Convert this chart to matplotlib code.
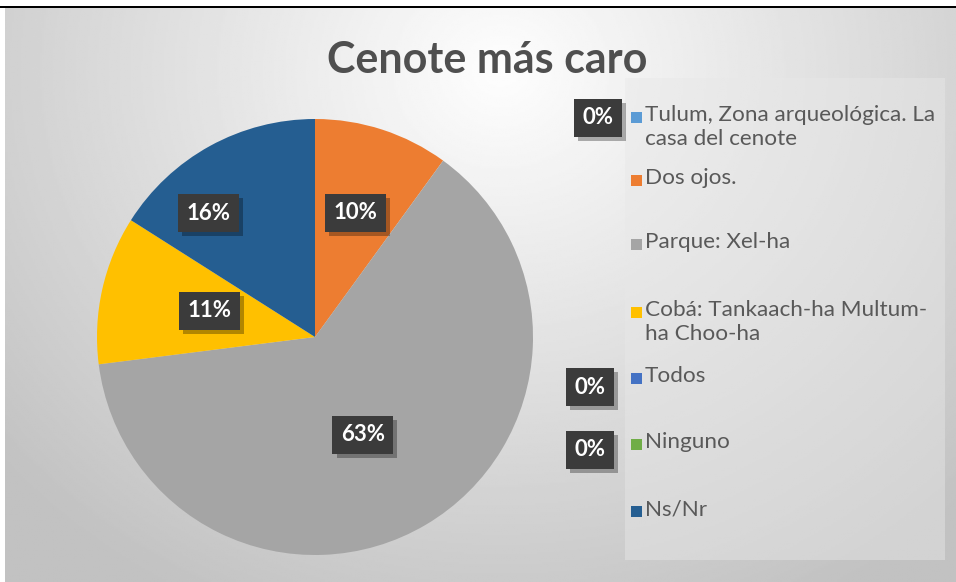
import numpy as np
import matplotlib
matplotlib.use("Agg")
import matplotlib.pyplot as plt
import matplotlib.patheffects as pe
from matplotlib.patches import Rectangle

plt.rcParams['font.family'] = ['Lato', 'DejaVu Sans']

# data
categories = ['Tulum, Zona arqueológica. La\ncasa del cenote', 'Dos ojos.', 'Parque: Xel-ha',
              'Cobá: Tankaach-ha Multum-\nha Choo-ha', 'Todos', 'Ninguno', 'Ns/Nr']
shares = [0, 10, 63, 11, 0, 0, 16]
colors = ['#5B9BD5', '#ED7D31', '#A5A5A5', '#FFC000', '#4472C4', '#70AD47', '#255E91']
title = 'Cenote más caro'

W, H = 956, 582
fig = plt.figure(figsize=(W / 100, H / 100), dpi=100)
fig.patch.set_facecolor('white')

# gradient background
bg = fig.add_axes([5 / W, 0, (W - 5) / W, (H - 8) / H])
bg.set_axis_off()
yy, xx = np.mgrid[0:300, 0:500]
xx = xx / 500 * (W - 5) + 5
yy = yy / 300 * (H - 8) + 8
d = np.sqrt(((xx - 500) / 620) ** 2 + ((yy - 70) / 560) ** 2)
shade = np.clip(0.995 - 0.22 * d, 0.76, 1.0)
bg.imshow(shade, cmap='gray', vmin=0, vmax=1, aspect='auto', extent=[0, 1, 0, 1], origin='upper')
bg.set_xlim(0, 1)
bg.set_ylim(0, 1)

# black top line
fig.add_artist(Rectangle((0, (H - 8) / H), 1, 2.5 / H, transform=fig.transFigure, color='black', lw=0))

# legend panel
fig.add_artist(Rectangle((625 / W, (H - 560) / H), 320 / W, 482 / H, transform=fig.transFigure,
                         facecolor='#e8e8e8', alpha=0.45, lw=0, zorder=0.5))

fig.text(487 / W, 1 - 60 / H, title, ha='center', va='center', fontsize=31,
         fontweight='bold', color='#4f4f4f', zorder=5)

# pie
cx, cy, R = 315, 337, 218
ax = fig.add_axes([(cx - R) / W, (H - cy - R) / H, 2 * R / W, 2 * R / H])
wedges, _ = ax.pie(shares, colors=colors, startangle=90, counterclock=False,
                   wedgeprops=dict(linewidth=0))
ax.set_xlim(-1, 1)
ax.set_ylim(-1, 1)


def dark_label(t):
    t.set_bbox(dict(boxstyle='square,pad=0.38', facecolor='#3b3b3b', edgecolor='none'))
    t.get_bbox_patch().set_path_effects([
        pe.withSimplePatchShadow(offset=(3, -3), shadow_rgbFace='black', alpha=0.3),
        pe.Normal()])


label_dist = [0, 0.6, 0.5, 0.5, 0, 0, 0.75]
label_nudge = [0, 0, -4.6, -1.4, 0, 0, 12]
for i, w in enumerate(wedges):
    if shares[i] == 0:
        continue
    ang = np.deg2rad((w.theta1 + w.theta2) / 2 + label_nudge[i])
    t = ax.text(label_dist[i] * np.cos(ang), label_dist[i] * np.sin(ang), f'{shares[i]}%',
                ha='center', va='center', fontsize=16, fontweight='bold', color='white')
    dark_label(t)

# legend entries
entry_y = [118, 181, 245, 313, 379, 445, 512]
for lab, col, y in zip(categories, colors, entry_y):
    fig.add_artist(Rectangle((631 / W, 1 - (y + 5) / H), 11 / W, 11 / H,
                             transform=fig.transFigure, color=col, lw=0))
    fig.text(645 / W, 1 - (y - 13) / H, lab, ha='left', va='top', fontsize=16.2,
             color='#595959', linespacing=1.24)

# zero-share labels sit beside their legend entries
zero_pos = {0: (598, 118), 4: (590, 387), 5: (590, 450)}
for i, (px, py) in zero_pos.items():
    t = fig.text(px / W, 1 - py / H, f'{shares[i]}%', ha='center', va='center',
                 fontsize=16, fontweight='bold', color='white')
    dark_label(t)

fig.savefig('out.png', dpi=100)
